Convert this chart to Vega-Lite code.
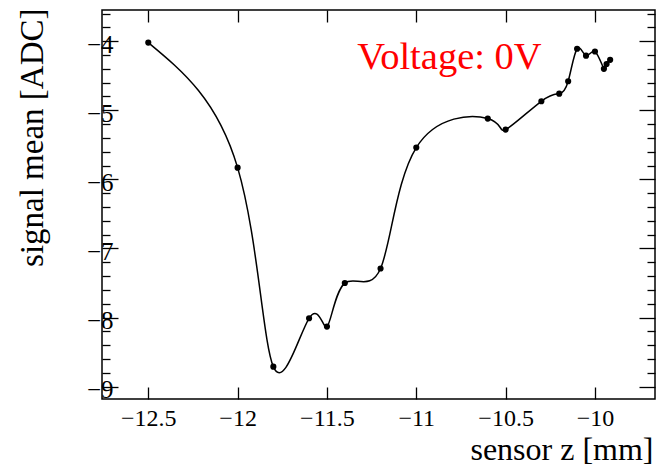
{
  "$schema": "https://vega.github.io/schema/vega-lite/v6.json",
  "width": 553,
  "height": 389,
  "autosize": {"type": "none"},
  "padding": {"left": 102, "top": 10, "right": 4, "bottom": 70},
  "background": "white",
  "config": {
    "view": {"stroke": "black", "strokeWidth": 1.5},
    "axis": {
      "labelFont": "Liberation Serif",
      "labelFontSize": 25,
      "labelColor": "black",
      "titleFont": "Liberation Serif",
      "titleFontSize": 33,
      "titleFontWeight": "normal",
      "titleColor": "black",
      "domain": false,
      "grid": false,
      "tickColor": "black",
      "tickWidth": 1.3,
      "labelOverlap": false
    }
  },
  "datasets": {
    "pts": [
      {"z": -12.50, "mean": -4.02},
      {"z": -12.00, "mean": -5.83},
      {"z": -11.80, "mean": -8.71},
      {"z": -11.60, "mean": -8.01},
      {"z": -11.50, "mean": -8.13},
      {"z": -11.40, "mean": -7.50},
      {"z": -11.20, "mean": -7.29},
      {"z": -11.00, "mean": -5.54},
      {"z": -10.60, "mean": -5.12},
      {"z": -10.50, "mean": -5.28},
      {"z": -10.30, "mean": -4.87},
      {"z": -10.20, "mean": -4.76},
      {"z": -10.15, "mean": -4.58},
      {"z": -10.10, "mean": -4.11},
      {"z": -10.05, "mean": -4.21},
      {"z": -10.00, "mean": -4.15},
      {"z": -9.95, "mean": -4.40},
      {"z": -9.935, "mean": -4.33},
      {"z": -9.915, "mean": -4.27}
    ]
  },
  "resolve": {"axis": {"x": "independent", "y": "independent"}},
  "layer": [
    {
      "data": {"name": "pts"},
      "mark": {"type": "line", "color": "black", "strokeWidth": 1.5, "interpolate": "natural"},
      "encoding": {
        "x": {
          "field": "z", "type": "quantitative", "sort": null,
          "scale": {"domain": [-12.759, -9.664], "nice": false, "zero": false},
          "axis": {
            "orient": "bottom",
            "values": [-12.5, -12, -11.5, -11, -10.5, -10],
            "format": "~g",
            "tickSize": -12,
            "labelFontSize": 24,
            "labelPadding": 19,
            "title": "sensor z [mm]",
            "titleFontSize": 32,
            "titleAnchor": "end",
            "titleAlign": "right",
            "titleBaseline": "alphabetic",
            "titleX": 551,
            "titleY": 60
          }
        },
        "y": {
          "field": "mean", "type": "quantitative",
          "scale": {"domain": [-9.178, -3.549], "nice": false, "zero": false},
          "axis": {
            "orient": "left",
            "values": [-9, -8.8, -8.6, -8.4, -8.2, -8, -7.8, -7.6, -7.4, -7.2, -7, -6.8, -6.6, -6.4, -6.2, -6, -5.8, -5.6, -5.4, -5.2, -5, -4.8, -4.6, -4.4, -4.2, -4, -3.8, -3.6],
            "labelExpr": "abs(datum.value - round(datum.value)) < 0.001 ? format(datum.value, '~g') : ''",
            "tickSize": {"condition": {"test": "abs(datum.value - round(datum.value)) < 0.001", "value": -16}, "value": -8},
            "labelPadding": 5,
            "labelOffset": 3,
            "title": "signal mean [ADC]",
            "titleAnchor": "end",
            "titleAlign": "right",
            "titleAngle": -90,
            "titleBaseline": "alphabetic",
            "titleX": -60,
            "titleY": -2
          }
        }
      }
    },
    {
      "data": {"name": "pts"},
      "mark": {"type": "point", "filled": true, "color": "black", "size": 38, "opacity": 1},
      "encoding": {
        "x": {
          "field": "z", "type": "quantitative",
          "axis": {
            "orient": "top",
            "values": [-12.5, -12, -11.5, -11, -10.5, -10],
            "tickSize": -12,
            "labels": false,
            "title": null
          }
        },
        "y": {
          "field": "mean", "type": "quantitative",
          "axis": {
            "orient": "right",
            "values": [-9, -8.8, -8.6, -8.4, -8.2, -8, -7.8, -7.6, -7.4, -7.2, -7, -6.8, -6.6, -6.4, -6.2, -6, -5.8, -5.6, -5.4, -5.2, -5, -4.8, -4.6, -4.4, -4.2, -4, -3.8, -3.6],
            "tickSize": {"condition": {"test": "abs(datum.value - round(datum.value)) < 0.001", "value": -16}, "value": -8},
            "labels": false,
            "title": null
          }
        }
      }
    },
    {
      "data": {"values": [{"label": "Voltage: 0V"}]},
      "mark": {"type": "text", "color": "#ff0000", "font": "Liberation Serif", "fontSize": 38.5, "align": "left", "baseline": "alphabetic"},
      "encoding": {
        "x": {"datum": -11.33, "type": "quantitative", "axis": null},
        "y": {"datum": -4.40, "type": "quantitative", "axis": null},
        "text": {"field": "label"}
      }
    }
  ]
}
